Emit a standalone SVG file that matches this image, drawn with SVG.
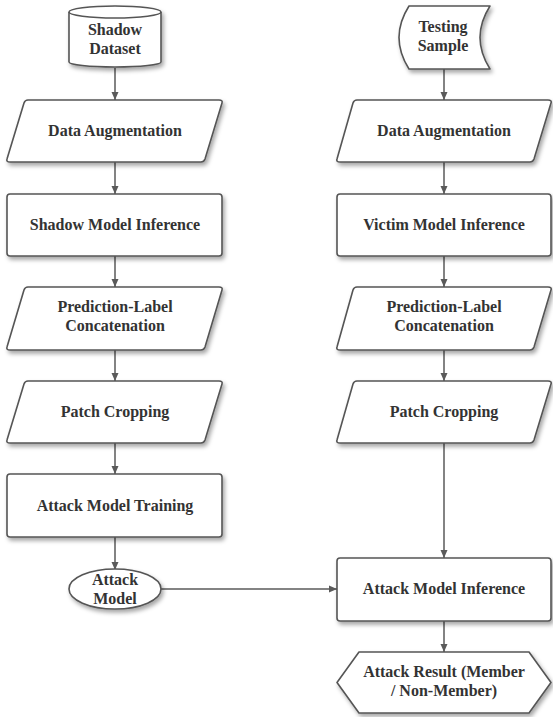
<svg xmlns="http://www.w3.org/2000/svg" width="553" height="717" viewBox="0 0 553 717">
  <defs>
    <filter id="shadow" x="-10%" y="-10%" width="130%" height="140%">
      <feDropShadow dx="2" dy="3" stdDeviation="2" flood-color="#000" flood-opacity="0.35"/>
    </filter>
    <marker id="arrow" markerWidth="10" markerHeight="10" refX="9" refY="5" orient="auto" markerUnits="userSpaceOnUse">
      <path d="M1,1.5 L9,5 L1,8.5 Z" fill="#5a5a5a"/>
    </marker>
  </defs>
  <style>
    .shape { fill: #ffffff; stroke: #555555; stroke-width: 1.6; stroke-linejoin: round; filter: url(#shadow); }
    .lbl { font-family: "Liberation Serif", "Times New Roman", serif; font-weight: bold; font-size: 16px; fill: #333333; text-anchor: middle; }
    .conn { fill: none; stroke: #5a5a5a; stroke-width: 1.5; marker-end: url(#arrow); }
  </style>
  <rect width="553" height="717" fill="#ffffff"/>

  <!-- connectors -->
  <g id="connectors">
    <line class="conn" x1="115" y1="68" x2="115" y2="100"/>
    <line class="conn" x1="115" y1="162" x2="115" y2="194"/>
    <line class="conn" x1="115" y1="256" x2="115" y2="287"/>
    <line class="conn" x1="115" y1="350" x2="115" y2="381"/>
    <line class="conn" x1="115" y1="443" x2="115" y2="474"/>
    <line class="conn" x1="115" y1="537" x2="115" y2="570"/>
    <line class="conn" x1="444" y1="69" x2="444" y2="100"/>
    <line class="conn" x1="444" y1="162" x2="444" y2="194"/>
    <line class="conn" x1="444" y1="256" x2="444" y2="287"/>
    <line class="conn" x1="444" y1="350" x2="444" y2="381"/>
    <line class="conn" x1="444" y1="443" x2="444" y2="558"/>
    <line class="conn" x1="444" y1="621" x2="444" y2="652"/>
    <line class="conn" x1="161" y1="589" x2="337" y2="589"/>
  </g>

  <!-- left column -->
  <g id="shadow-dataset">
    <path class="shape" d="M69,12 A46,6 0 0 1 161,12 L161,62 A46,5 0 0 1 69,62 Z"/>
    <path d="M69,12 A46,6 0 0 0 161,12" fill="none" stroke="#555555" stroke-width="1.6"/>
    <text class="lbl" x="115" y="35">Shadow</text>
    <text class="lbl" x="115" y="54">Dataset</text>
  </g>
  <g id="left-data-augmentation">
    <path class="shape" d="M28,100 L219,100 Q223,100 222,103 L205,159 Q204,162 201,162 L10,162 Q6,162 7,159 L24,103 Q25,100 28,100 Z"/>
    <text class="lbl" x="115" y="136">Data Augmentation</text>
  </g>
  <g id="shadow-model-inference">
    <rect class="shape" x="7" y="194" width="215" height="62" rx="3"/>
    <text class="lbl" x="115" y="230">Shadow Model Inference</text>
  </g>
  <g id="left-prediction-label">
    <path class="shape" d="M28,287 L219,287 Q223,287 222,290 L205,347 Q204,350 201,350 L10,350 Q6,350 7,347 L24,290 Q25,287 28,287 Z"/>
    <text class="lbl" x="115" y="312">Prediction-Label</text>
    <text class="lbl" x="115" y="331">Concatenation</text>
  </g>
  <g id="left-patch-cropping">
    <path class="shape" d="M28,381 L219,381 Q223,381 222,384 L205,440 Q204,443 201,443 L10,443 Q6,443 7,440 L24,384 Q25,381 28,381 Z"/>
    <text class="lbl" x="115" y="417">Patch Cropping</text>
  </g>
  <g id="attack-model-training">
    <rect class="shape" x="7" y="474" width="215" height="63" rx="3"/>
    <text class="lbl" x="115" y="511">Attack Model Training</text>
  </g>
  <g id="attack-model">
    <ellipse class="shape" cx="115" cy="589" rx="46" ry="20"/>
    <text class="lbl" x="115" y="585">Attack</text>
    <text class="lbl" x="115" y="604">Model</text>
  </g>

  <!-- right column -->
  <g id="testing-sample">
    <path class="shape" d="M409,6 L490,6 Q470,37.5 490,69 L409,69 Q389,37.5 409,6 Z"/>
    <text class="lbl" x="443" y="32">Testing</text>
    <text class="lbl" x="443" y="51">Sample</text>
  </g>
  <g id="right-data-augmentation">
    <path class="shape" d="M357,100 L548,100 Q552,100 551,103 L534,159 Q533,162 530,162 L340,162 Q336,162 337,159 L353,103 Q354,100 357,100 Z"/>
    <text class="lbl" x="444" y="136">Data Augmentation</text>
  </g>
  <g id="victim-model-inference">
    <rect class="shape" x="337" y="194" width="214" height="62" rx="3"/>
    <text class="lbl" x="444" y="230">Victim Model Inference</text>
  </g>
  <g id="right-prediction-label">
    <path class="shape" d="M357,287 L548,287 Q552,287 551,290 L534,347 Q533,350 530,350 L340,350 Q336,350 337,347 L353,290 Q354,287 357,287 Z"/>
    <text class="lbl" x="444" y="312">Prediction-Label</text>
    <text class="lbl" x="444" y="331">Concatenation</text>
  </g>
  <g id="right-patch-cropping">
    <path class="shape" d="M357,381 L548,381 Q552,381 551,384 L534,440 Q533,443 530,443 L340,443 Q336,443 337,440 L353,384 Q354,381 357,381 Z"/>
    <text class="lbl" x="444" y="417">Patch Cropping</text>
  </g>
  <g id="attack-model-inference">
    <rect class="shape" x="337" y="558" width="214" height="63" rx="3"/>
    <text class="lbl" x="444" y="594">Attack Model Inference</text>
  </g>
  <g id="attack-result">
    <path class="shape" d="M359,652 L529,652 L551,682.5 L529,713 L359,713 L337,682.5 Z"/>
    <text class="lbl" x="444" y="677">Attack Result (Member</text>
    <text class="lbl" x="444" y="696">/ Non-Member)</text>
  </g>
</svg>
